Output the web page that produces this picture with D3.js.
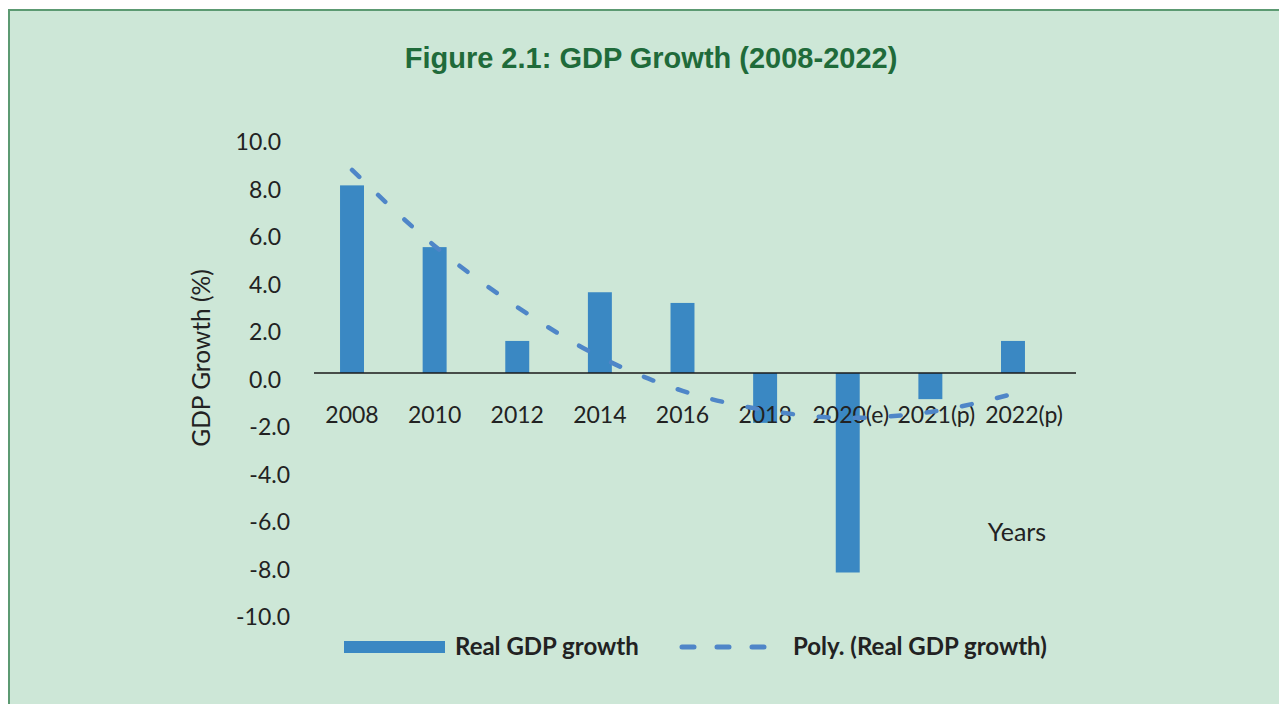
<!DOCTYPE html>
<html>
<head>
<meta charset="utf-8">
<script src="https://cdn.jsdelivr.net/npm/d3@7"></script>
<style>
  html, body { margin: 0; padding: 0; background: #ffffff; }
  svg { display: block; }
</style>
</head>
<body>
<script>
// Real GDP growth by year, with the polynomial trend values
const years = ["2008", "2010", "2012", "2014", "2016", "2018", "2020(e)", "2021(p)", "2022(p)"];
const growth = [7.9, 5.3, 1.35, 3.4, 2.95, -2.1, -8.4, -1.1, 1.35];
const trend = [8.55, 5.35, 2.78, 0.68, -0.75, -1.56, -1.89, -1.64, -0.88];
const yTicks = [10, 8, 6, 4, 2, 0, -2, -4, -6, -8, -10];

const W = 1279, H = 704;
const svg = d3.select("body").append("svg").attr("width", W).attr("height", H);

// panel background and frame
svg.append("rect").attr("x", 9).attr("y", 10).attr("width", W).attr("height", H)
  .attr("fill", "#cde7d7").attr("stroke", "#5c9a72").attr("stroke-width", 2);

svg.append("text")
  .attr("x", 651).attr("y", 68)
  .attr("text-anchor", "middle")
  .attr("font-family", "'Liberation Sans', Arial, sans-serif")
  .attr("font-weight", "bold").attr("font-size", 29)
  .attr("fill", "#1f6b3a")
  .text("Figure 2.1: GDP Growth (2008-2022)");

const x = d3.scaleBand().domain(years).range([310.7, 1054.3])
  .paddingInner(0.71).paddingOuter(0.355);
const y = d3.scaleLinear().domain([-10, 10]).range([610.5, 135.5]);

const font = "Lato, 'Open Sans', sans-serif";
const ink = "#222222";
const barColor = "#3a88c3";
const lineColor = "#4f86c8";

// value axis labels (no axis line), positive numbers sit slightly left
const yAxis = svg.append("g").attr("font-family", font).attr("font-size", 23).attr("fill", ink);
yAxis.selectAll("text").data(yTicks).join("text")
  .attr("x", d => d < 0 ? 290 : 281)
  .attr("y", d => y(d) + 6.5)
  .attr("dy", "0.35em")
  .attr("text-anchor", "end")
  .text(d => d3.format(".1f")(d).replace("−", "-"));

svg.append("text")
  .attr("transform", "translate(210,358) rotate(-90)")
  .attr("text-anchor", "middle")
  .attr("font-family", font).attr("font-size", 24.5).attr("fill", ink)
  .text("GDP Growth (%)");

// bars
svg.append("g").selectAll("rect").data(years).join("rect")
  .attr("x", d => x(d))
  .attr("width", x.bandwidth())
  .attr("y", (d, i) => y(Math.max(0, growth[i])))
  .attr("height", (d, i) => Math.abs(y(growth[i]) - y(0)))
  .attr("fill", barColor);

// zero baseline
svg.append("line")
  .attr("x1", 314).attr("x2", 1076)
  .attr("y1", y(0)).attr("y2", y(0))
  .attr("stroke", "#1a1a1a").attr("stroke-width", 1.3);

// category labels; the longer suffixed labels are nudged right to avoid crowding
const labelNudge = { "2020(e)": 3, "2021(p)": 6, "2022(p)": 11 };
svg.append("g").selectAll("text").data(years).join("text")
  .attr("x", d => x(d) + x.bandwidth() / 2 + (labelNudge[d] || 0))
  .attr("y", 415)
  .attr("dy", "0.35em")
  .attr("text-anchor", "middle")
  .attr("font-family", font).attr("font-size", 23).attr("fill", ink)
  .text(d => d);

// polynomial trend
const line = d3.line()
  .x((d, i) => x(years[i]) + x.bandwidth() / 2)
  .y(d => y(d))
  .curve(d3.curveMonotoneX);
svg.append("path").datum(trend)
  .attr("d", line)
  .attr("fill", "none")
  .attr("stroke", lineColor).attr("stroke-width", 4.5)
  .attr("stroke-linecap", "round")
  .attr("stroke-dasharray", "10,26");

svg.append("text")
  .attr("x", 1017).attr("y", 532).attr("dy", "0.35em")
  .attr("text-anchor", "middle")
  .attr("font-family", font).attr("font-size", 25).attr("fill", ink)
  .text("Years");

// legend
const lg = svg.append("g");
lg.append("rect").attr("x", 344).attr("y", 641).attr("width", 101).attr("height", 12).attr("fill", barColor);
lg.append("text").attr("x", 455).attr("y", 647).attr("dy", "0.35em")
  .attr("font-family", font).attr("font-weight", "bold").attr("font-size", 24).attr("fill", ink)
  .text("Real GDP growth");
lg.append("line").attr("x1", 682).attr("x2", 766).attr("y1", 647).attr("y2", 647)
  .attr("stroke", lineColor).attr("stroke-width", 5)
  .attr("stroke-linecap", "round").attr("stroke-dasharray", "12,23");
lg.append("text").attr("x", 793).attr("y", 647).attr("dy", "0.35em")
  .attr("font-family", font).attr("font-weight", "bold").attr("font-size", 24).attr("fill", ink)
  .text("Poly. (Real GDP growth)");
</script>
</body>
</html>
